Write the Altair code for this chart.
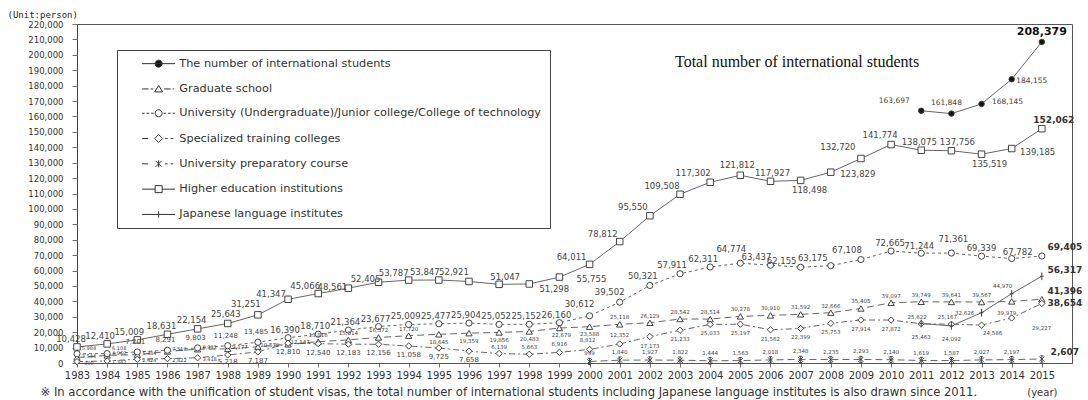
import altair as alt
import pandas as pd

# ---------------- data ----------------
years = list(range(1983, 2016))
prep_years = list(range(2000, 2016))
late_years = list(range(2011, 2016))

higher_ed = [10428, 12410, 15009, 18631, 22154, 25643, 31251, 41347, 45066, 48561,
             52405, 53787, 53847, 52921, 51047, 51298, 55755, 64011, 78812, 95550,
             109508, 117302, 121812, 117927, 118498, 123829, 132720, 141774, 138075,
             137756, 135519, 139185, 152062]
graduate = [3544, 4960, 5384, 7518, 8933, 9177, 10579, 12147, 13816, 15014,
            16572, 17720, 18645, 19359, 19856, 20483, 22679, 23588, 25118, 26129,
            28542, 28514, 30278, 30910, 31592, 32666, 35405, 39097, 39749, 39641,
            39567, 39979, 41396]
undergrad = [5984, 6108, 7201, 8291, 9803, 11248, 13485, 16390, 18710, 21364,
             23677, 25009, 25477, 25904, 25052, 25152, 26160, 30612, 39502, 50321,
             57911, 62311, 64774, 63437, 62155, 63175, 67108, 72665, 71244, 71361,
             69339, 67782, 69405]
specialized = [900, 1342, 2424, 2822, 3418, 5218, 7187, 12810, 12540, 12183,
               12156, 11058, 9725, 7658, 6139, 5663, 6916, 8812, 12352, 17173,
               21233, 25033, 25197, 21562, 22399, 25753, 27914, 27872, 25463, 25167,
               24586, 29227, 38654]
prep = [999, 1840, 1927, 1822, 1444, 1563, 2018, 2348, 2235, 2293, 2140, 1619,
        1587, 2027, 2197, 2607]
total = [163697, 161848, 168145, 184155, 208379]
japanese_lang = [25622, 24092, 32626, 44970, 56317]

S_TOTAL = "The number of international students"
S_GRAD = "Graduate school"
S_UNDER = "University (Undergraduate)/Junior college/College of technology"
S_SPEC = "Specialized training colleges"
S_PREP = "University preparatory course"
S_HE = "Higher education institutions"
S_JLI = "Japanese language institutes"
series_order = [S_TOTAL, S_GRAD, S_UNDER, S_SPEC, S_PREP, S_HE, S_JLI]

series_values = {
    S_TOTAL: (late_years, total),
    S_GRAD: (years, graduate),
    S_UNDER: (years, undergrad),
    S_SPEC: (years, specialized),
    S_PREP: (prep_years, prep),
    S_HE: (years, higher_ed),
    S_JLI: (late_years, japanese_lang),
}

y_ticks = list(range(0, 220001, 10000))
title_text = "Total number of international students"
unit_text = "(Unit:person)"
footnote = ("\u203b In accordance with the unification of student visas, the total number of "
            "international students including Japanese language institutes is also drawn since 2011.")

# ---------------- styles ----------------
W, H = 995, 339
PX_PER_YEAR = W / 33
UNITS_PER_PX = 220000 / H

ASTER = "M-0.8,-0.8L0.8,0.8M-0.8,0.8L0.8,-0.8M0,-1L0,1M-0.5,-1L0.5,-1M-0.5,1L0.5,1"
PLUS = "M0,-1L0,1M-0.5,0L0.5,0"

point_style = {
    S_TOTAL: dict(shape="circle", size=30, fill="#111"),
    S_GRAD: dict(shape="triangle-up", size=40, fill="white"),
    S_UNDER: dict(shape="circle", size=38, fill="white"),
    S_SPEC: dict(shape="diamond", size=40, fill="white"),
    S_PREP: dict(shape=ASTER, size=40, fill="white"),
    S_HE: dict(shape="square", size=42, fill="white"),
    S_JLI: dict(shape=PLUS, size=60, fill="white"),
}
line_dash = {
    S_TOTAL: None, S_GRAD: [7, 4], S_UNDER: [3, 3], S_SPEC: [6, 3, 2, 3],
    S_PREP: [7, 4], S_HE: None, S_JLI: None,
}

circ = "M-0.7,0A0.7,0.7 0 1 1 0.7,0A0.7,0.7 0 1 1 -0.7,0Z"
legend_paths = [
    "M-3.3,0L3.3,0" + circ,
    "M-3.3,0L-2.0,0M-1.6,0L-1.1,0M-0.8,0.6L0,-0.7L0.8,0.6ZM1.1,0L2.4,0M2.8,0L3.1,0",
    "M-3.3,0L-2.8,0M-2.4,0L-1.9,0M-1.5,0L-1.0,0" + circ + "M1.0,0L1.5,0M1.9,0L2.4,0M2.8,0L3.3,0",
    "M-3.3,0L-2.1,0M-0.8,0L0,-0.8L0.8,0L0,0.8ZM1.3,0L1.8,0M2.4,0L2.9,0",
    "M-3.3,0L-2.1,0M-0.6,-0.6L0.6,0.6M-0.6,0.6L0.6,-0.6M0,-0.7L0,0.7M1.3,0L1.8,0M2.4,0L2.9,0",
    "M-3.3,0L-0.7,0M0.7,0L3.3,0M-0.7,-0.7L0.7,-0.7L0.7,0.7L-0.7,0.7Z",
    "M-3.3,0L3.3,0M0,-0.65L0,0.65",
]
legend_fills = ["#111", "white", "white", "white", "white", "white", "white"]
legend_strokes = ["#333"] * 7

# label offsets in pixels (dx, dy)
label_offsets = {
    S_HE: {"default": (-8, -9), 1983: (-6, -8), 1984: (-7, -8), 1985: (-8, -8),
           1986: (-6, -8), 1987: (-6, -9), 1988: (-2, -9), 1989: (-12, -11),
           1990: (-17, -5), 1991: (-13, -8), 1992: (-16, -1), 1993: (-13, -3),
           1994: (-15, -7), 1995: (-14, -8), 1996: (-15, -9), 1997: (6, -7),
           1998: (25, 5), 1999: (32, 2), 2000: (-18, -7), 2001: (-17, -8),
           2002: (-17, -9), 2003: (-18, -8), 2004: (-17, -9), 2005: (-3, -10),
           2006: (2, -8), 2007: (9, 10), 2008: (27, 2), 2009: (-23, -11),
           2010: (-11, -10), 2011: (-2, -8), 2012: (6, -9), 2013: (8, 10),
           2014: (26, 3), 2015: (12, -9)},
    S_UNDER: {"default": (-3, -8), 1983: (12, -6), 1984: (12, -6), 1985: (-2, -10),
              1986: (-2, -10), 1987: (-2, -10), 1988: (-2, -10), 1989: (-2, -10),
              2000: (-10, -12), 2001: (-10, -10), 2002: (-7, -9),
              2003: (-8, -9), 2004: (-7, -8), 2005: (-9, -14), 2006: (-14, -8),
              2007: (-19, -6), 2008: (-18, -8), 2009: (-14, -10), 2010: (-1, -8),
              2011: (-2, -7), 2012: (2, -14), 2013: (0, -8), 2014: (6, -7),
              2015: (23, -9)},
    S_GRAD: {"default": (0, -7), 1983: (12, -2), 1984: (12, -2), 1985: (12, -2),
             1986: (12, -2), 1987: (12, -2), 1988: (12, -2), 1989: (12, -2),
             1990: (12, -2),
             1995: (0, 8), 1996: (0, 8), 1997: (0, 8),
             1998: (0, 8), 1999: (2, 7), 2000: (0, 7), 2014: (-5, 12), 2015: (23, -8)},
    S_SPEC: {"default": (0, 9), 1983: (12, 1), 1984: (12, 1), 1985: (12, 1),
             1986: (12, 1), 1987: (12, 1), 1988: (0, 7),
             1997: (0, -7), 1998: (0, -7), 1999: (0, -8),
             2000: (-2, -9), 2001: (0, -9), 2011: (0, 13), 2012: (-4, -7),
             2013: (11, 8), 2014: (30, 10), 2015: (23, 0)},
    S_PREP: {"default": (0, -8), 2015: (23, -7)},
    S_TOTAL: {"default": (0, -10), 2011: (-27, -10), 2012: (-5, -11), 2013: (26, -2),
              2014: (20, 2), 2015: (0, -10)},
    S_JLI: {"default": (0, -8), 2011: (-4, -7), 2012: (0, 13), 2013: (-17, 0),
            2014: (-9, -8), 2015: (23, -6)},
}


def label_size(s, yr):
    if s == S_HE:
        return 8.5
    if s == S_UNDER:
        return 5 if yr < 1985 else (7 if yr < 1990 else 8.5)
    if s == S_TOTAL:
        return 7.5
    if s == S_SPEC and 1988 <= yr <= 1996:
        return 7
    if s in (S_GRAD, S_SPEC) and yr < 1988:
        return 5
    return 5.5


# ---------------- tables ----------------
point_rows, label_rows = [], []
for s in series_order:
    xs_, vs_ = series_values[s]
    offs = label_offsets[s]
    for yr, v in zip(xs_, vs_):
        point_rows.append({"series": s, "x": yr, "y": v})
        dx, dy = offs.get(yr, offs["default"])
        if s == S_TOTAL and yr == 2015:
            kind = "big"
        elif yr == 2015:
            kind = "bold"
        else:
            kind = "normal"
        label_rows.append({
            "series": s, "label": f"{v:,}",
            "x": yr + dx / PX_PER_YEAR, "y": v - dy * UNITS_PER_PX,
            "size": label_size(s, yr), "kind": kind,
        })
points = pd.DataFrame(point_rows)
labels = pd.DataFrame(label_rows)

xscale = alt.Scale(domain=[1983, 2016], nice=False, zero=False)
yscale = alt.Scale(domain=[0, 220000], nice=False)

x_axis = alt.Axis(values=years, format="d", labelOverlap=False, labelFlush=False,
                  labelExpr="datum.value == 2015 ? ['2015', '\u00a0\u00a0(year)'] : datum.label",
                  labelFont="DejaVu Sans", labelFontSize=10, labelColor="#333",
                  labelLineHeight=17, labelPadding=3,
                  tickSize=4, tickColor="#777", domainColor="#555", grid=False,
                  title=footnote, titleFont="DejaVu Sans", titleFontSize=11.6,
                  titleFontWeight="normal", titleColor="#333", titleX=-37, titleY=29,
                  titleAlign="left", titleAnchor="start", titleBaseline="middle")
y_axis = alt.Axis(values=y_ticks, labelExpr="format(datum.value, ',.0f')",
                  labelFont="DejaVu Sans", labelFontSize=8.5,
                  labelColor="#333", labelPadding=9, tickSize=5, tickColor="#777",
                  domainColor="#444", grid=False,
                  title=unit_text, titleFont="DejaVu Sans Mono", titleFontSize=9,
                  titleFontWeight="normal", titleColor="#222", titleAngle=0,
                  titleX=-70, titleY=-10, titleAlign="left", titleBaseline="middle")

layers = []
for s in series_order:
    sub = points[points.series == s]
    kw = dict(color="#666", strokeWidth=1)
    if line_dash[s]:
        kw["strokeDash"] = line_dash[s]
    layers.append(alt.Chart(sub).mark_line(**kw).encode(order="x:Q"))

for s in series_order:
    sub = points[points.series == s]
    st = point_style[s]
    layers.append(alt.Chart(sub).mark_point(
        shape=st["shape"], size=st["size"], filled=True, fill=st["fill"],
        stroke="#444", strokeWidth=1, opacity=1,
    ).encode(detail="series:N"))

layers.append(alt.Chart(labels[labels.kind == "normal"]).mark_text(
    font="DejaVu Sans", color="#444", align="center", baseline="middle").encode(
    text="label:N", size=alt.Size("size:Q", scale=None, legend=None)))
layers.append(alt.Chart(labels[labels.kind == "bold"]).mark_text(
    font="DejaVu Sans", color="#333", fontWeight="bold", fontSize=9,
    align="center", baseline="middle").encode(text="label:N"))
layers.append(alt.Chart(labels[labels.kind == "big"]).mark_text(
    font="DejaVu Sans", color="#111", fontWeight="bold", fontSize=11,
    align="center", baseline="middle").encode(text="label:N"))

leg = alt.Legend(title=None, orient="none", legendX=40, legendY=26, direction="vertical",
                 strokeColor="#444", fillColor="white", padding=8,
                 labelFont="DejaVu Sans", labelFontSize=11.3, labelColor="#333",
                 labelLimit=700, symbolSize=100, symbolStrokeWidth=1,
                 symbolStrokeColor="#333", symbolOffset=28, labelOffset=15,
                 rowPadding=12.3, symbolOpacity=1)
layers.append(alt.Chart(points).mark_point(strokeWidth=1, filled=True).encode(
    shape=alt.Shape("series:N", scale=alt.Scale(domain=series_order, range=legend_paths), legend=leg),
    fill=alt.Fill("series:N", scale=alt.Scale(domain=series_order, range=legend_fills), legend=leg),
    stroke=alt.Stroke("series:N", scale=alt.Scale(domain=series_order, range=legend_strokes), legend=leg),
).transform_filter("datum.x < 0"))

chart = alt.layer(*layers).encode(
    x=alt.X("x:Q", scale=xscale, axis=x_axis),
    y=alt.Y("y:Q", scale=yscale, axis=y_axis),
).properties(
    width=W, height=H,
    title=alt.TitleParams(title_text, anchor="start", font="Liberation Serif", fontSize=16,
                          fontWeight="normal", color="#111", dx=598, dy=76, offset=0,
                          baseline="bottom", frame="group"),
    padding={"left": 77, "top": 24, "right": 16, "bottom": 37},
    autosize=alt.AutoSizeParams(type="none"),
).configure_view(stroke="#555", strokeWidth=1)

chart.save("out.html", embed_options={"renderer": "svg", "actions": False})
